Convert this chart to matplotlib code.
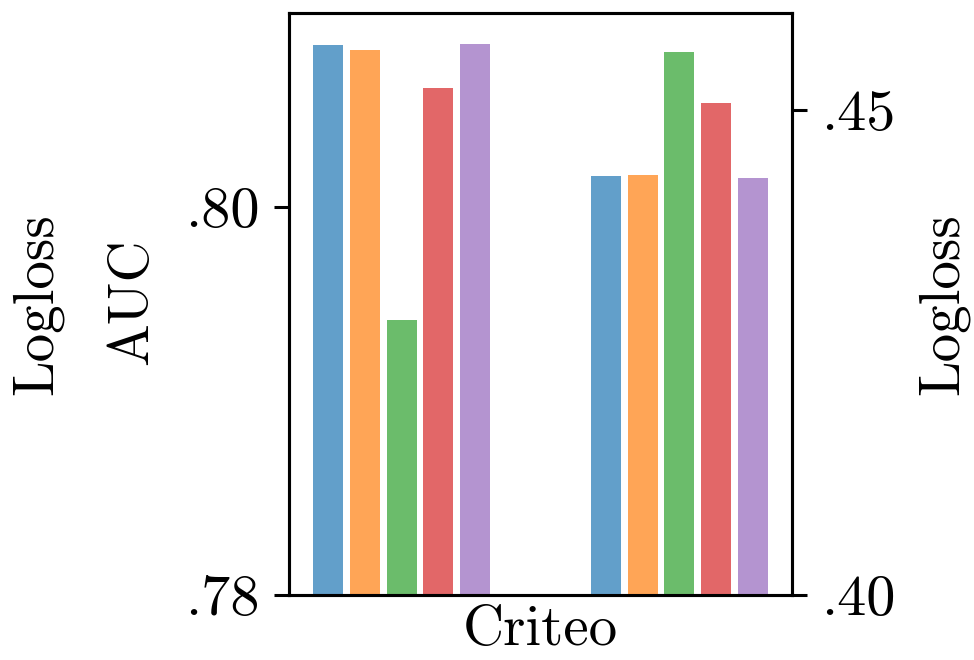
import matplotlib
matplotlib.use("Agg")
import matplotlib.pyplot as plt
import numpy as np

plt.rcParams['font.family'] = ['cmr10', 'DejaVu Serif']
plt.rcParams['mathtext.fontset'] = 'cm'
plt.rcParams['axes.formatter.use_mathtext'] = True

datasets = ['Criteo']
models = ['M1', 'M2', 'M3', 'M4', 'M5']
colors = ['#1f77b4', '#ff7f0e', '#2ca02c', '#d62728', '#9467bd']
auc = [0.80835, 0.80810, 0.79415, 0.80613, 0.80840]
logloss = [0.44315, 0.44335, 0.45595, 0.45075, 0.44303]
auc_ticks = [0.78, 0.80]
auc_ticklabels = ['.78', '.80']
ll_ticks = [0.40, 0.45]
ll_ticklabels = ['.40', '.45']

FS = 41
fig = plt.figure(figsize=(9.74, 6.6), dpi=100)
ax = fig.add_axes([289/974, 65/660, 503/974, 582/660])
ax2 = ax.twinx()

step = 0.1327
width = 0.108
for i, (m, c) in enumerate(zip(models, colors)):
    off = (i - 2) * step
    ax.bar(0 + off, auc[i], width, color=c, alpha=0.7, linewidth=0)
    ax2.bar(1 + off, logloss[i], width, color=c, alpha=0.7, linewidth=0)

ax.set_xlim(-0.405, 1.405)
ax.set_ylim(0.78, 0.81)
ax2.set_ylim(0.40, 0.46)
ax.set_yticks(auc_ticks)
ax.set_yticklabels(auc_ticklabels)
ax2.set_yticks(ll_ticks)
ax2.set_yticklabels(ll_ticklabels)
ax.set_xticks([0.5])
ax.set_xticklabels(datasets)

for a in (ax, ax2):
    for s in a.spines.values():
        s.set_linewidth(2.2)
    a.tick_params(axis='y', labelsize=42, length=11, width=2.2, pad=10)
ax.tick_params(axis='x', labelsize=FS, length=0, pad=7)

fig.text(63/974, 1 - 304/660, 'Logloss', rotation=90, fontsize=FS, ha='right', va='center')
fig.text(158/974, 1 - 302/660, 'AUC', rotation=90, fontsize=FS, ha='right', va='center')
ax2.set_ylabel('Logloss', fontsize=FS, labelpad=16)

fig.savefig('out.png', dpi=100)
